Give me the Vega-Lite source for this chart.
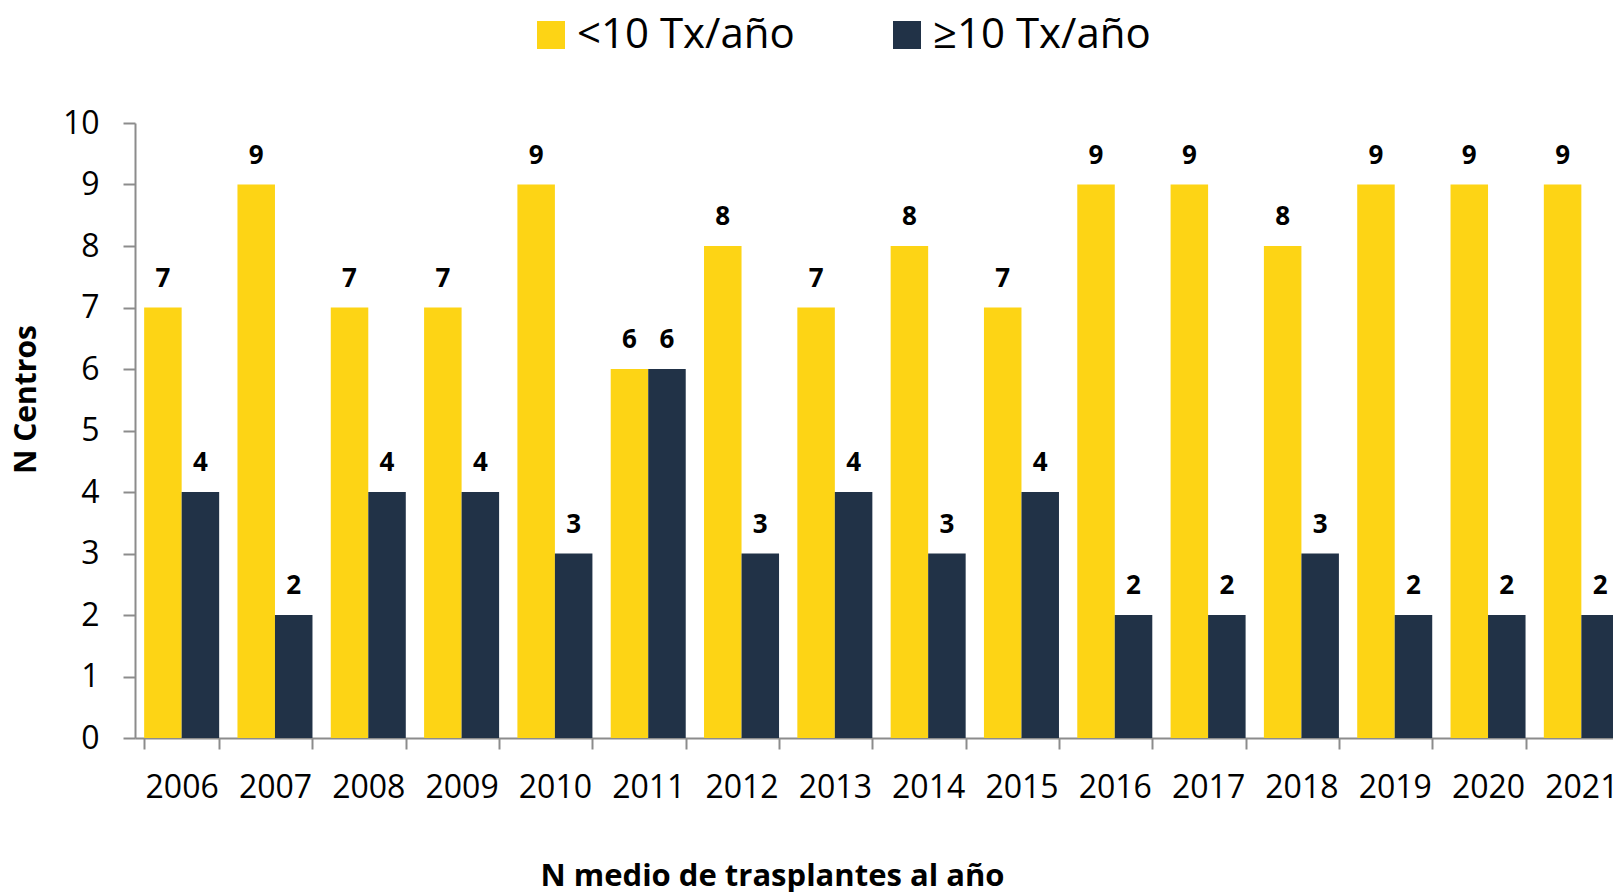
{
  "$schema": "https://vega.github.io/schema/vega-lite/v6.json",
  "width": 1478,
  "height": 615,
  "autosize": {"type": "none"},
  "padding": {"left": 135, "top": 123, "right": 0, "bottom": 154},
  "background": "#ffffff",
  "config": {
    "font": "Open Sans",
    "view": {"stroke": null},
    "axis": {"grid": false}
  },
  "data": {
    "values": [
      {"year": "2006", "grupo": "<10 Tx/año", "n": 7}, {"year": "2006", "grupo": "≥10 Tx/año", "n": 4},
      {"year": "2007", "grupo": "<10 Tx/año", "n": 9}, {"year": "2007", "grupo": "≥10 Tx/año", "n": 2},
      {"year": "2008", "grupo": "<10 Tx/año", "n": 7}, {"year": "2008", "grupo": "≥10 Tx/año", "n": 4},
      {"year": "2009", "grupo": "<10 Tx/año", "n": 7}, {"year": "2009", "grupo": "≥10 Tx/año", "n": 4},
      {"year": "2010", "grupo": "<10 Tx/año", "n": 9}, {"year": "2010", "grupo": "≥10 Tx/año", "n": 3},
      {"year": "2011", "grupo": "<10 Tx/año", "n": 6}, {"year": "2011", "grupo": "≥10 Tx/año", "n": 6},
      {"year": "2012", "grupo": "<10 Tx/año", "n": 8}, {"year": "2012", "grupo": "≥10 Tx/año", "n": 3},
      {"year": "2013", "grupo": "<10 Tx/año", "n": 7}, {"year": "2013", "grupo": "≥10 Tx/año", "n": 4},
      {"year": "2014", "grupo": "<10 Tx/año", "n": 8}, {"year": "2014", "grupo": "≥10 Tx/año", "n": 3},
      {"year": "2015", "grupo": "<10 Tx/año", "n": 7}, {"year": "2015", "grupo": "≥10 Tx/año", "n": 4},
      {"year": "2016", "grupo": "<10 Tx/año", "n": 9}, {"year": "2016", "grupo": "≥10 Tx/año", "n": 2},
      {"year": "2017", "grupo": "<10 Tx/año", "n": 9}, {"year": "2017", "grupo": "≥10 Tx/año", "n": 2},
      {"year": "2018", "grupo": "<10 Tx/año", "n": 8}, {"year": "2018", "grupo": "≥10 Tx/año", "n": 3},
      {"year": "2019", "grupo": "<10 Tx/año", "n": 9}, {"year": "2019", "grupo": "≥10 Tx/año", "n": 2},
      {"year": "2020", "grupo": "<10 Tx/año", "n": 9}, {"year": "2020", "grupo": "≥10 Tx/año", "n": 2},
      {"year": "2021", "grupo": "<10 Tx/año", "n": 9}, {"year": "2021", "grupo": "≥10 Tx/año", "n": 2}
    ]
  },
  "encoding": {
    "x": {
      "field": "year",
      "type": "nominal",
      "sort": null,
      "scale": {"range": [0, 1493], "paddingInner": 0.196, "paddingOuter": 0.098},
      "axis": {
        "title": "N medio de trasplantes al año",
        "titleFont": "Open Sans",
        "titleFontSize": 31,
        "titleFontWeight": "bold",
        "titleColor": "#000000",
        "titleX": 637,
        "titleY": 147,
        "titleAlign": "center",
        "titleBaseline": "alphabetic",
        "labelAngle": 0,
        "labelFontSize": 32,
        "labelColor": "#000000",
        "labelBaseline": "alphabetic",
        "labelPadding": 48,
        "tickBand": "extent",
        "tickSize": 11,
        "tickColor": "#8c8c8c",
        "tickWidth": 2,
        "domainColor": "#8c8c8c",
        "domainWidth": 2
      }
    },
    "xOffset": {"field": "grupo", "type": "nominal", "sort": null},
    "y": {
      "field": "n",
      "type": "quantitative",
      "scale": {"domain": [0, 10], "nice": false},
      "axis": {
        "values": [0, 1, 2, 3, 4, 5, 6, 7, 8, 9, 10],
        "title": "N Centros",
        "titleFont": "Open Sans",
        "titleFontSize": 30,
        "titleFontWeight": "bold",
        "titleColor": "#000000",
        "titleX": -100,
        "titleY": 276,
        "titleAlign": "center",
        "titleBaseline": "alphabetic",
        "labelFontSize": 32,
        "labelColor": "#000000",
        "labelPadding": 24,
        "tickSize": 12,
        "tickColor": "#8c8c8c",
        "tickWidth": 2,
        "domainColor": "#8c8c8c",
        "domainWidth": 2
      }
    }
  },
  "layer": [
    {
      "mark": {"type": "bar", "clip": false},
      "encoding": {
        "color": {
          "field": "grupo",
          "type": "nominal",
          "sort": null,
          "scale": {"domain": ["<10 Tx/año", "≥10 Tx/año"], "range": ["#FDD415", "#213247"]},
          "legend": {
            "title": null,
            "orient": "none",
            "direction": "horizontal",
            "legendX": 395,
            "legendY": -109,
            "symbolType": "square",
            "symbolSize": 784,
            "symbolStrokeWidth": 0,
            "symbolOpacity": 1,
            "labelFont": "Open Sans",
            "labelFontSize": 42,
            "labelColor": "#000000",
            "labelOffset": 5,
            "columnPadding": 91,
            "labelLimit": 500
          }
        }
      }
    },
    {
      "mark": {"type": "text", "fontSize": 26, "fontWeight": "bold", "font": "Open Sans", "baseline": "alphabetic", "dy": -21, "color": "#000000", "clip": false},
      "encoding": {
        "text": {"field": "n", "type": "quantitative"}
      }
    }
  ]
}
